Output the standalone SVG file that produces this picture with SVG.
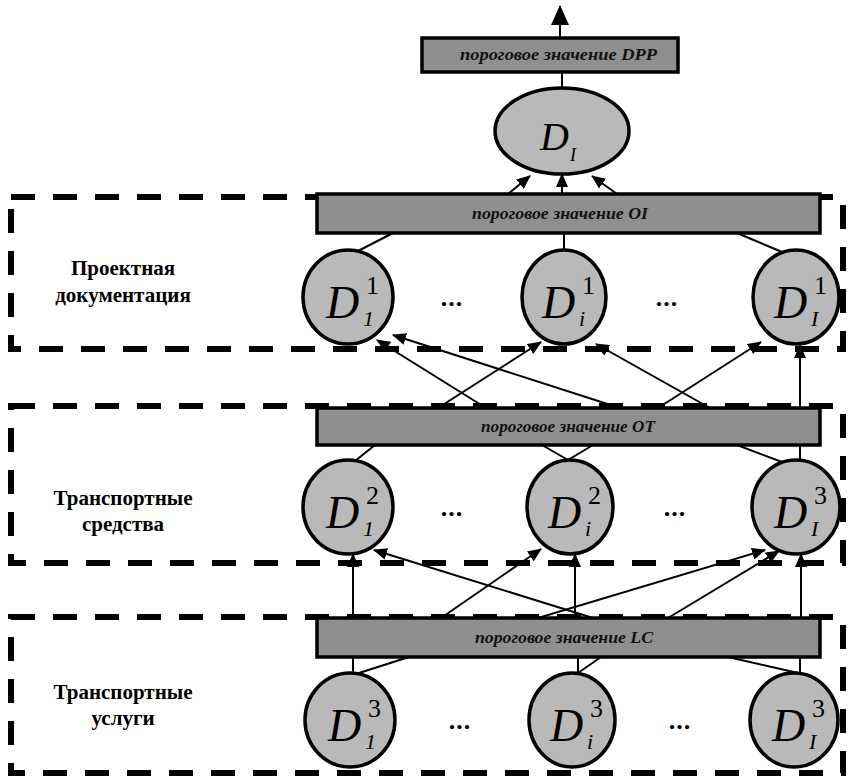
<svg xmlns="http://www.w3.org/2000/svg" width="855" height="778" viewBox="0 0 855 778">
<style>
.zone{fill:none;stroke:#000;stroke-width:6;stroke-dasharray:24 18}
.bar{fill:#8f8f8f;stroke:#000;stroke-width:3.5}
.node{fill:#b9b9b9;stroke:#000;stroke-width:3.5}
.lbl{font-family:"Liberation Serif","DejaVu Serif","Times New Roman",serif;font-weight:bold;font-size:21px;text-anchor:middle;fill:#000}
.bt{font-family:"Liberation Serif","DejaVu Serif","Times New Roman",serif;font-style:italic;font-weight:bold;font-size:16px;fill:#111}
.D{font-family:"Liberation Serif","Times New Roman",serif;font-style:italic;font-size:46px;fill:#000}
.sup{font-family:"Liberation Serif","Times New Roman",serif;font-size:26px;fill:#000}
.sub{font-family:"Liberation Serif","Times New Roman",serif;font-style:italic;font-size:22px;fill:#000}
.dots{font-family:"Liberation Serif","Times New Roman",serif;font-weight:bold;font-size:26px;letter-spacing:1px;text-anchor:middle;fill:#000}
.c{stroke:#000;stroke-width:2;fill:none}
.a{stroke:#000;stroke-width:2;fill:none;marker-end:url(#ah)}
</style>
<defs>
<marker id="ah" viewBox="0 0 14 12" refX="13" refY="6" markerWidth="14" markerHeight="12" markerUnits="userSpaceOnUse" orient="auto">
<path d="M0,0 L14,6 L0,12 z" fill="#000"/>
</marker>
<marker id="ahBig" viewBox="0 0 20 18" refX="19" refY="9" markerWidth="20" markerHeight="18" markerUnits="userSpaceOnUse" orient="auto">
<path d="M0,0 L20,9 L0,18 z" fill="#000"/>
</marker>
</defs>

<g id="zones">
<rect id="zone-docs" class="zone" x="11" y="197" width="832" height="152"/>
<rect id="zone-vehicles" class="zone" x="11" y="406" width="832" height="157"/>
<rect id="zone-services" class="zone" x="11" y="617" width="832" height="156"/>
<text class="lbl" x="123" y="275">Проектная</text>
<text class="lbl" x="123" y="302">документация</text>
<text class="lbl" x="123" y="505">Транспортные</text>
<text class="lbl" x="123" y="531">средства</text>
<text class="lbl" x="123" y="699">Транспортные</text>
<text class="lbl" x="123" y="725">услуги</text>
</g>

<g id="connectors">
<line class="c" x1="560" y1="38" x2="560" y2="6" style="marker-end:url(#ahBig)"/>
<line class="c" x1="562" y1="88" x2="562" y2="72"/>
<line class="a" x1="508" y1="194" x2="530" y2="176"/>
<line class="a" x1="562" y1="194" x2="562" y2="174"/>
<line class="a" x1="617" y1="194" x2="592" y2="176"/>
<line class="c" x1="393" y1="233" x2="358" y2="251"/>
<line class="c" x1="564" y1="233" x2="564" y2="250"/>
<line class="c" x1="737" y1="233" x2="782" y2="252"/>
<line class="a" x1="486" y1="408" x2="377" y2="340"/>
<line class="a" x1="620" y1="408" x2="393" y2="335"/>
<line class="a" x1="438" y1="408" x2="541" y2="342"/>
<line class="a" x1="710" y1="408" x2="596" y2="344"/>
<line class="a" x1="658" y1="408" x2="761" y2="342"/>
<line class="a" x1="800" y1="460" x2="800" y2="345"/>
<line class="c" x1="375" y1="445" x2="355" y2="461"/>
<line class="c" x1="542" y1="445" x2="568" y2="460"/>
<line class="c" x1="593" y1="445" x2="568" y2="460"/>
<line class="c" x1="737" y1="445" x2="782" y2="462"/>
<line class="a" x1="353" y1="618" x2="353" y2="554"/>
<line class="a" x1="593" y1="618" x2="374" y2="550"/>
<line class="a" x1="441" y1="618" x2="541" y2="549"/>
<line class="a" x1="575" y1="618" x2="575" y2="554"/>
<line class="a" x1="538" y1="618" x2="765" y2="550"/>
<line class="a" x1="668" y1="618" x2="779" y2="551"/>
<line class="a" x1="801" y1="618" x2="801" y2="554"/>
<line class="c" x1="353" y1="657" x2="353" y2="674"/>
<line class="c" x1="409" y1="657" x2="359" y2="673"/>
<line class="c" x1="578" y1="657" x2="578" y2="674"/>
<line class="c" x1="601" y1="657" x2="578" y2="673"/>
<line class="c" x1="728" y1="657" x2="798" y2="673"/>
<line class="c" x1="800" y1="657" x2="800" y2="674"/>
</g>

<g id="bar-DPP">
<rect class="bar" x="422" y="38" width="256" height="34"/>
<text class="bt" x="460" y="60" textLength="197" lengthAdjust="spacingAndGlyphs">пороговое значение DPP</text>
</g>
<g id="node-DI">
<ellipse class="node" cx="562" cy="131" rx="67" ry="43"/>
<text class="D" x="540" y="150" style="font-size:40px">D</text>
<text class="sub" x="570" y="161" style="font-size:18px">I</text>
</g>

<g id="bar-OI">
<rect class="bar" x="317" y="194" width="503" height="39"/>
<text class="bt" x="472" y="219" textLength="176" lengthAdjust="spacingAndGlyphs">пороговое значение OI</text>
</g>
<g id="bar-OT">
<rect class="bar" x="317" y="408" width="503" height="37"/>
<text class="bt" x="481" y="432" textLength="174" lengthAdjust="spacingAndGlyphs">пороговое значение OT</text>
</g>
<g id="bar-LC">
<rect class="bar" x="317" y="618" width="503" height="39"/>
<text class="bt" x="475" y="643" textLength="178" lengthAdjust="spacingAndGlyphs">пороговое значение LC</text>
</g>

<g id="node-D1-1">
<ellipse class="node" cx="348" cy="297" rx="45" ry="47"/>
<text class="D" x="326" y="318">D</text><text class="sup" x="366" y="294">1</text><text class="sub" x="363" y="326">1</text>
</g>
<g id="node-D1-i">
<ellipse class="node" cx="564" cy="297" rx="42" ry="47"/>
<text class="D" x="542" y="318">D</text><text class="sup" x="582" y="294">1</text><text class="sub" x="579" y="326">i</text>
</g>
<g id="node-D1-I">
<ellipse class="node" cx="796" cy="297" rx="43" ry="47"/>
<text class="D" x="774" y="318">D</text><text class="sup" x="814" y="294">1</text><text class="sub" x="811" y="326">I</text>
</g>
<text class="dots" x="452" y="306">...</text>
<text class="dots" x="667" y="306">...</text>

<g id="node-D2-1">
<ellipse class="node" cx="348" cy="507" rx="45" ry="47"/>
<text class="D" x="326" y="528">D</text><text class="sup" x="366" y="504">2</text><text class="sub" x="363" y="536">1</text>
</g>
<g id="node-D2-i">
<ellipse class="node" cx="570" cy="507" rx="43" ry="47"/>
<text class="D" x="548" y="528">D</text><text class="sup" x="588" y="504">2</text><text class="sub" x="585" y="536">i</text>
</g>
<g id="node-D2-I">
<ellipse class="node" cx="796" cy="507" rx="44" ry="47"/>
<text class="D" x="774" y="528">D</text><text class="sup" x="814" y="504">3</text><text class="sub" x="811" y="536">I</text>
</g>
<text class="dots" x="452" y="516">...</text>
<text class="dots" x="675" y="516">...</text>

<g id="node-D3-1">
<ellipse class="node" cx="350" cy="720" rx="45" ry="47"/>
<text class="D" x="328" y="741">D</text><text class="sup" x="368" y="717">3</text><text class="sub" x="365" y="749">1</text>
</g>
<g id="node-D3-i">
<ellipse class="node" cx="572" cy="720" rx="43" ry="47"/>
<text class="D" x="550" y="741">D</text><text class="sup" x="590" y="717">3</text><text class="sub" x="587" y="749">i</text>
</g>
<g id="node-D3-I">
<ellipse class="node" cx="794" cy="720" rx="44" ry="47"/>
<text class="D" x="772" y="741">D</text><text class="sup" x="812" y="717">3</text><text class="sub" x="809" y="749">I</text>
</g>
<text class="dots" x="460" y="729">...</text>
<text class="dots" x="680" y="729">...</text>
</svg>
